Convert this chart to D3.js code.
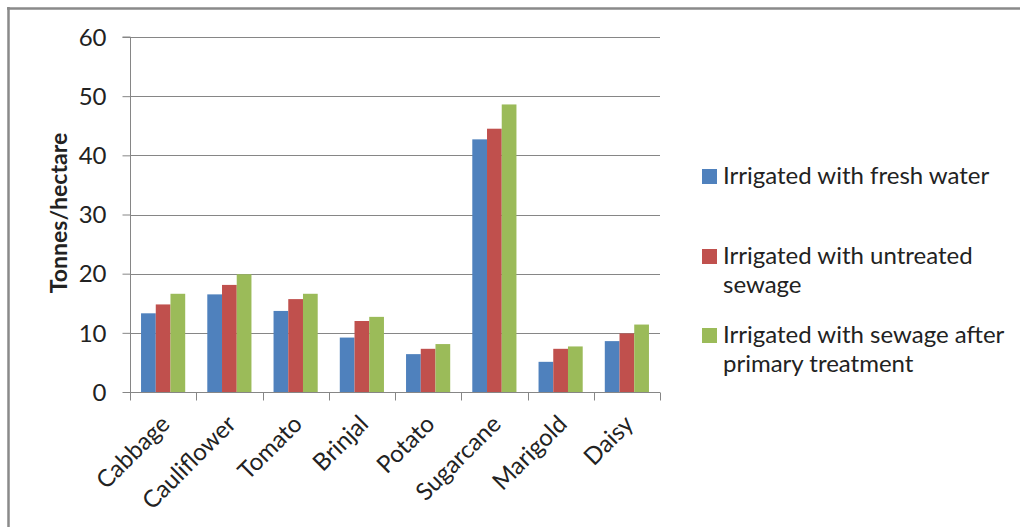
<!DOCTYPE html>
<html>
<head>
<meta charset="utf-8">
<script src="https://cdn.jsdelivr.net/npm/d3@7"></script>
<style>
  html, body { margin: 0; padding: 0; background: #fff; }
  svg { display: block; }
  text { font-family: Lato, "Open Sans", sans-serif; fill: #222; }
</style>
</head>
<body>
<svg id="chart" width="1020" height="527"></svg>
<script>
// Crop yields (tonnes per hectare) under three irrigation regimes
const categories = ["Cabbage", "Cauliflower", "Tomato", "Brinjal", "Potato", "Sugarcane", "Marigold", "Daisy"];
const seriesNames = [
  "Irrigated with fresh water",
  "Irrigated with untreated sewage",
  "Irrigated with sewage after primary treatment"
];
const legendLines = [
  ["Irrigated with fresh water"],
  ["Irrigated with untreated", "sewage"],
  ["Irrigated with sewage after", "primary treatment"]
];
const freshWater      = [13.3, 16.5, 13.7, 9.2, 6.4, 42.7, 5.1, 8.6];
const untreatedSewage = [14.8, 18.1, 15.7, 12.0, 7.3, 44.5, 7.3, 9.9];
const primaryTreated  = [16.6, 19.9, 16.6, 12.7, 8.1, 48.6, 7.7, 11.4];
const seriesValues = [freshWater, untreatedSewage, primaryTreated];
const seriesColors = ["#4F81BD", "#C0504D", "#9BBB59"];
const yTicks = [0, 10, 20, 30, 40, 50, 60];
const yTitle = "Tonnes/hectare";

const svg = d3.select("#chart");
const gridColor = "#868686";

// Outer frame (top and left edges visible)
svg.append("line").attr("x1", 7).attr("x2", 1020).attr("y1", 8.5).attr("y2", 8.5)
  .attr("stroke", "#8a8a8a").attr("stroke-width", 2.5);
svg.append("line").attr("x1", 8.5).attr("x2", 8.5).attr("y1", 7).attr("y2", 527)
  .attr("stroke", "#8a8a8a").attr("stroke-width", 2.5);

const plot = { left: 130, right: 660, top: 37, bottom: 392 };

const x = d3.scaleBand().domain(categories).range([plot.left, plot.right]).paddingInner(0).paddingOuter(0);
const y = d3.scaleLinear().domain([0, 60]).range([plot.bottom, plot.top]);

// Bars fill 3 of 4.5 slot units (150% gap between groups)
const barW = x.bandwidth() / 4.5;
const groupOffset = (x.bandwidth() - 3 * barW) / 2;
const xs = d3.scaleBand().domain(d3.range(3)).range([groupOffset, groupOffset + 3 * barW]).padding(0);

// Horizontal gridlines
svg.append("g").selectAll("line").data(yTicks.filter(t => t > 0)).join("line")
  .attr("x1", plot.left).attr("x2", plot.right)
  .attr("y1", d => Math.round(y(d)) + 0.5).attr("y2", d => Math.round(y(d)) + 0.5)
  .attr("stroke", gridColor).attr("stroke-width", 1);

// Bars
const groups = svg.append("g").selectAll("g").data(categories).join("g")
  .attr("transform", d => `translate(${x(d)},0)`);
groups.selectAll("rect")
  .data((c, i) => seriesValues.map((vals, s) => ({ s, v: vals[i] })))
  .join("rect")
  .attr("x", d => xs(d.s))
  .attr("width", xs.bandwidth())
  .attr("y", d => y(d.v))
  .attr("height", d => y(0) - y(d.v))
  .attr("fill", d => seriesColors[d.s]);

// Y axis
const yAxis = d3.axisLeft(y).tickValues(yTicks).tickSize(8).tickPadding(16);
const gy = svg.append("g").attr("transform", `translate(${plot.left + 0.5},0)`).call(yAxis);
gy.select(".domain").attr("stroke", gridColor).attr("d", `M-8,${y(60)}H0V${y(0)}`);
gy.selectAll(".tick line").attr("stroke", gridColor);
gy.selectAll(".tick text").attr("font-size", 24).attr("font-family", "Lato, sans-serif")
  .attr("fill", "#222").attr("dy", "0.34em").attr("x", -24);

// X axis
const gx = svg.append("g").attr("transform", `translate(0,${Math.round(y(0)) + 0.5})`);
gx.append("line").attr("x1", plot.left).attr("x2", plot.right).attr("stroke", gridColor);
const tickXs = categories.map(c => x(c)).concat([plot.right]);
gx.selectAll("line.tick").data(tickXs).join("line").attr("class", "tick")
  .attr("x1", d => Math.round(d) + 0.5).attr("x2", d => Math.round(d) + 0.5)
  .attr("y1", 0).attr("y2", 8).attr("stroke", gridColor);
gx.selectAll("text").data(categories).join("text")
  .attr("transform", d => `translate(${x(d) + x.bandwidth() / 2 + 8},${33}) rotate(-45)`)
  .attr("text-anchor", "end")
  .attr("font-size", 24)
  .text(d => d);

// Y axis title
svg.append("text")
  .attr("transform", `translate(67,213) rotate(-90)`)
  .attr("text-anchor", "middle")
  .attr("font-size", 23).attr("font-weight", "bold")
  .text(yTitle);

// Legend
const legendTop = [169, 249, 328];
const legend = svg.append("g").selectAll("g").data(seriesNames).join("g");
legend.append("rect")
  .attr("x", 702).attr("y", (d, i) => legendTop[i])
  .attr("width", 15).attr("height", 15)
  .attr("fill", (d, i) => seriesColors[i]);
legend.each(function (d, i) {
  const t = d3.select(this).append("text").attr("font-size", 24);
  legendLines[i].forEach((line, j) => {
    t.append("tspan").attr("x", 723).attr("y", legendTop[i] + 15 + j * 29).text(line);
  });
});
</script>
</body>
</html>
